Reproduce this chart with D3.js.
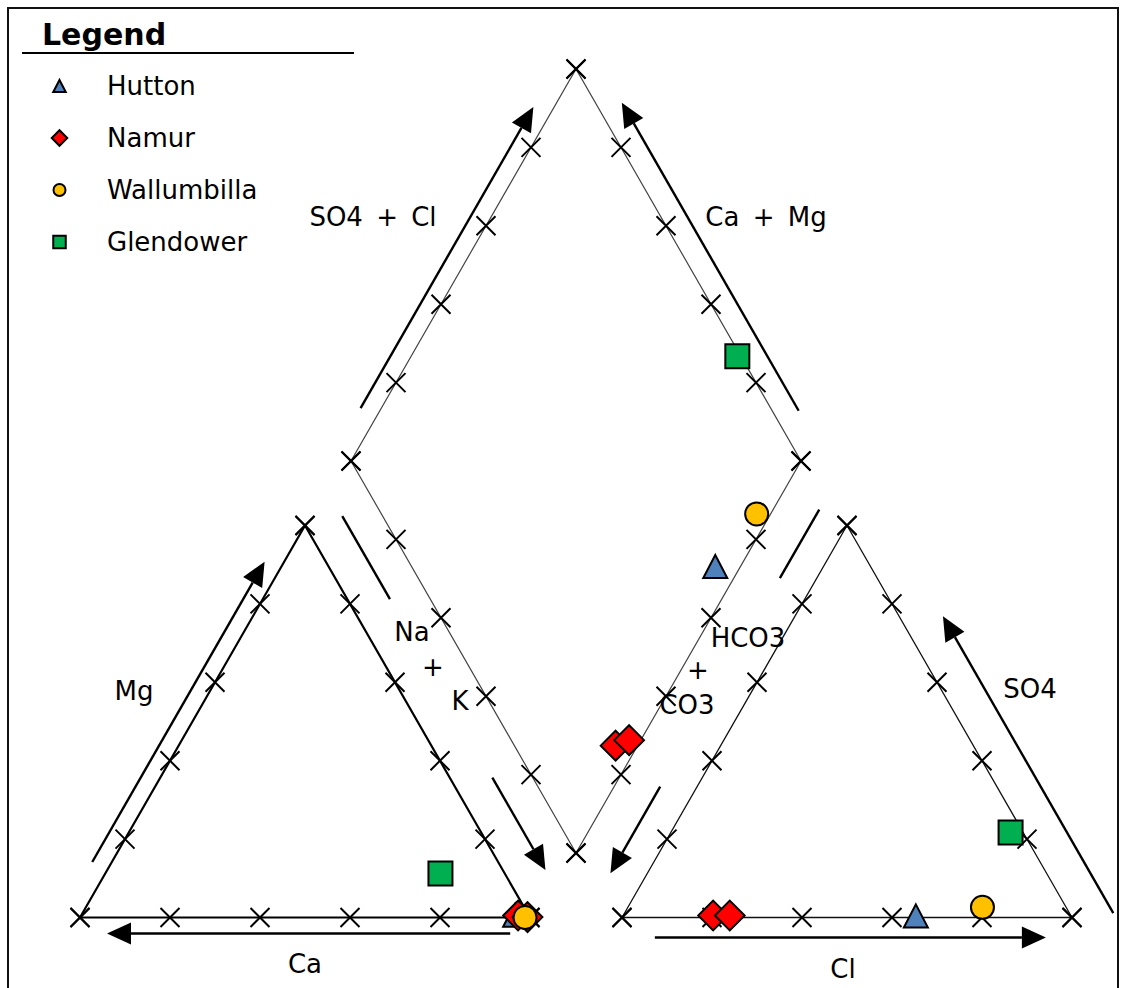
<!DOCTYPE html>
<html>
<head>
<meta charset="utf-8">
<script src="https://cdn.jsdelivr.net/npm/d3@7"></script>
<style>
  body { margin: 0; background: #fff; }
  svg { display: block; }
  text { font-family: "DejaVu Sans", Verdana, sans-serif; fill: #000; }
</style>
</head>
<body>
<svg id="chart" width="1124" height="988"></svg>
<script>
// ---- Piper diagram data (percent of meq/L) ----
const sampleNames = ["Hutton", "Namur", "Namur", "Wallumbilla", "Glendower"];
// cations
const caPct  = [3.0, 2.4, 0.5, 1.1, 14.3];
const mgPct  = [0.6, 0.5, 0.1, 0.0, 11.2];
const naKPct = [96.4, 97.1, 99.4, 98.9, 74.5];
// anions
const hco3Pct = [34.5, 79.5, 75.8, 18.6, 2.8];
const so4Pct  = [0.4, 0.5, 0.5, 2.6, 21.7];
const clPct   = [65.1, 20.0, 23.7, 78.8, 75.5];
// legend entries and axis ticks
const legendNames = ["Hutton", "Namur", "Wallumbilla", "Glendower"];
const tickPct = [0, 20, 40, 60, 80, 100];

// ---- layout ----
const side = 450, triH = 392;          // triangle side (px) and drawn height
const baseY = 917.5;
const leftX0 = 80, rightX0 = 622;      // left corners of the two triangles
const gap = rightX0 - (leftX0 + side);
const midX = leftX0 + side + gap / 2;
const kV = triH / (side / 2);          // vertical px per horizontal px along a side
const diamondOriginY = baseY - (gap / 2) * kV;   // projection origin for samples
const frameBottomY = 853;              // outline of the diamond field

const styles = {
  Hutton:      { shape: "triangle", fill: "#4f81bd" },
  Namur:       { shape: "diamond",  fill: "#ff0000" },
  Wallumbilla: { shape: "circle",   fill: "#ffc000" },
  Glendower:   { shape: "square",   fill: "#00b050" }
};

const svg = d3.select("#chart");

// scales for the cation triangle (x on Na+K + Mg/2, y on Mg)
const xCat = d3.scaleLinear().domain([0, 100]).range([leftX0, leftX0 + side]);
const yCat = d3.scaleLinear().domain([0, 100]).range([baseY, baseY - triH]);
// scales for the anion triangle (x on Cl + SO4/2, y on SO4)
const xAn = d3.scaleLinear().domain([0, 100]).range([rightX0, rightX0 + side]);
const yAn = d3.scaleLinear().domain([0, 100]).range([baseY, baseY - triH]);
// scales for the diamond: horizontal on (SO4+Cl) - (Ca+Mg), vertical on the sum
const xDia = d3.scaleLinear().domain([-100, 100]).range([midX - side / 2, midX + side / 2]);
const yDia = d3.scaleLinear().domain([0, 200]).range([diamondOriginY, diamondOriginY - 2 * triH]);

// triangle / diamond vertices
const catV = { ca: [xCat(0), yCat(0)], mg: [xCat(50), yCat(100)], na: [xCat(100), yCat(0)] };
const anV  = { hco3: [xAn(0), yAn(0)], so4: [xAn(50), yAn(100)], cl: [xAn(100), yAn(0)] };
const dShift = frameBottomY - diamondOriginY;
const diaV = {
  b: [xDia(0), yDia(0) + dShift],
  l: [xDia(-100), yDia(100) + dShift],
  t: [xDia(0), yDia(200) + dShift],
  r: [xDia(100), yDia(100) + dShift]
};

// outer frame
svg.append("rect")
  .attr("x", 8).attr("y", 8).attr("width", 1110).attr("height", 1000)
  .attr("fill", "none").attr("stroke", "#111").attr("stroke-width", 2);

const line = d3.line();

// outlines
svg.append("path")
  .attr("d", line([catV.ca, catV.mg, catV.na]) + "Z")
  .attr("fill", "none").attr("stroke", "#000").attr("stroke-width", 2.2);
svg.append("path")
  .attr("d", line([anV.hco3, anV.so4, anV.cl]) + "Z")
  .attr("fill", "none").attr("stroke", "#111").attr("stroke-width", 1.3);
svg.append("path")
  .attr("d", line([diaV.b, diaV.l, diaV.t, diaV.r]) + "Z")
  .attr("fill", "none").attr("stroke", "#444").attr("stroke-width", 1.2);

// "x" tick marks every 20 %
const edges = [
  [catV.ca, catV.na], [catV.ca, catV.mg], [catV.mg, catV.na],
  [anV.hco3, anV.cl], [anV.hco3, anV.so4], [anV.so4, anV.cl],
  [diaV.b, diaV.l], [diaV.l, diaV.t], [diaV.t, diaV.r], [diaV.r, diaV.b]
];
const frac = d3.scaleLinear().domain([0, 100]).range([0, 1]);
const tickPts = [];
edges.forEach(([p, q]) => tickPct.forEach(v => {
  const f = frac(v);
  tickPts.push([p[0] + (q[0] - p[0]) * f, p[1] + (q[1] - p[1]) * f]);
}));
const tk = 9.5;
svg.append("g").selectAll("path").data(tickPts).join("path")
  .attr("d", d => `M${d[0]-tk},${d[1]-tk}L${d[0]+tk},${d[1]+tk}M${d[0]-tk},${d[1]+tk}L${d[0]+tk},${d[1]-tk}`)
  .attr("stroke", "#000").attr("stroke-width", 2).attr("fill", "none");

// axis arrows, running parallel to an edge at a perpendicular offset
const arrows = svg.append("g");
function edgeArrow(p0, p1, t0, t1, off, head) {
  const dx = p1[0] - p0[0], dy = p1[1] - p0[1], len = Math.hypot(dx, dy);
  const ux = dx / len, uy = dy / len, nx = uy, ny = -ux;
  const at = t => [p0[0] + ux * len * t + nx * off, p0[1] + uy * len * t + ny * off];
  const a = at(t0), b = at(t1);
  const hl = 24, hw = 11;
  const end = head ? [b[0] - ux * hl, b[1] - uy * hl] : b;
  arrows.append("path").attr("d", line([a, end]))
    .attr("stroke", "#000").attr("stroke-width", 2.4).attr("fill", "none");
  if (head) {
    arrows.append("path")
      .attr("d", line([b, [end[0] + nx * hw, end[1] + ny * hw], [end[0] - nx * hw, end[1] - ny * hw]]) + "Z")
      .attr("fill", "#000");
  }
}
edgeArrow(catV.na, catV.ca, 0.044, 0.94, 16, true);          // Ca
edgeArrow(catV.ca, catV.mg, 0.12, 0.886, 17, true);          // Mg
edgeArrow(catV.mg, catV.na, 0.023, 0.235, 37, false);        // Na + K
edgeArrow(catV.mg, catV.na, 0.69, 0.926, 37, true);
edgeArrow(anV.hco3, anV.cl, 0.073, 0.942, -20, true);        // Cl
edgeArrow(anV.cl, anV.so4, -0.037, 0.72, -38, true);         // SO4
edgeArrow(anV.so4, anV.hco3, 0.0, 0.175, -32, false);        // HCO3 + CO3
edgeArrow(anV.so4, anV.hco3, 0.707, 0.928, -32, true);
edgeArrow(diaV.l, diaV.t, 0.112, 0.88, 18, true);            // SO4 + Cl
edgeArrow(diaV.r, diaV.t, 0.099, 0.885, -23, true);          // Ca + Mg

// axis labels
const labelSize = 26;
const labels = [
  ["SO4 + Cl", 373, 226], ["Ca + Mg", 766, 226],
  ["Mg", 134, 700], ["Ca", 305, 973],
  ["Na", 412, 641], ["+", 433, 676], ["K", 460, 710],
  ["HCO3", 748, 647], ["+", 698, 679], ["CO3", 687, 714],
  ["SO4", 1030, 698], ["Cl", 843, 978]
];
svg.append("g").selectAll("text").data(labels).join("text")
  .attr("x", d => d[1]).attr("y", d => d[2])
  .attr("text-anchor", "middle")
  .attr("font-size", labelSize)
  .attr("word-spacing", 5)
  .text(d => d[0]);

// marker shapes
function shapePath(shape, s) {
  switch (shape) {
    case "triangle": { const w = s * 0.5, h = s * 0.48;
      return `M0,${-h}L${w},${h}L${-w},${h}Z`; }
    case "diamond": return `M0,${-s * 0.62}L${s * 0.62},0L0,${s * 0.62}L${-s * 0.62},0Z`;
    case "square": return `M${-s / 2},${-s / 2}h${s}v${s}h${-s}Z`;
    default: return "";
  }
}
function drawMarker(g, name, x, y, s) {
  const st = styles[name];
  const el = st.shape === "circle"
    ? g.append("circle").attr("cx", x).attr("cy", y).attr("r", s * 0.48)
    : g.append("path").attr("transform", `translate(${x},${y})`).attr("d", shapePath(st.shape, s));
  el.attr("fill", st.fill).attr("stroke", "#000").attr("stroke-width", 2).attr("stroke-linejoin", "miter");
}

// plot samples in the three fields
const pts = svg.append("g");
const markerSize = 24;
sampleNames.forEach((name, i) => {
  drawMarker(pts, name, xCat(naKPct[i] + mgPct[i] / 2), yCat(mgPct[i]), markerSize);
});
sampleNames.forEach((name, i) => {
  drawMarker(pts, name, xAn(clPct[i] + so4Pct[i] / 2), yAn(so4Pct[i]), markerSize);
});
sampleNames.forEach((name, i) => {
  const cat = caPct[i] + mgPct[i], an = so4Pct[i] + clPct[i];
  drawMarker(pts, name, xDia(an - cat), yDia(an + cat), markerSize);
});

// legend
const leg = svg.append("g");
leg.append("text").attr("x", 42).attr("y", 45)
  .attr("font-size", 30).attr("font-weight", "bold").text("Legend");
leg.append("line").attr("x1", 22).attr("x2", 354).attr("y1", 53).attr("y2", 53)
  .attr("stroke", "#000").attr("stroke-width", 2);
legendNames.forEach((name, i) => {
  const y = 86 + i * 52;
  drawMarker(leg, name, 59.5, y, 12.5);
  leg.append("text").attr("x", 107).attr("y", y + 9).attr("font-size", 26).text(name);
});
</script>
</body>
</html>
